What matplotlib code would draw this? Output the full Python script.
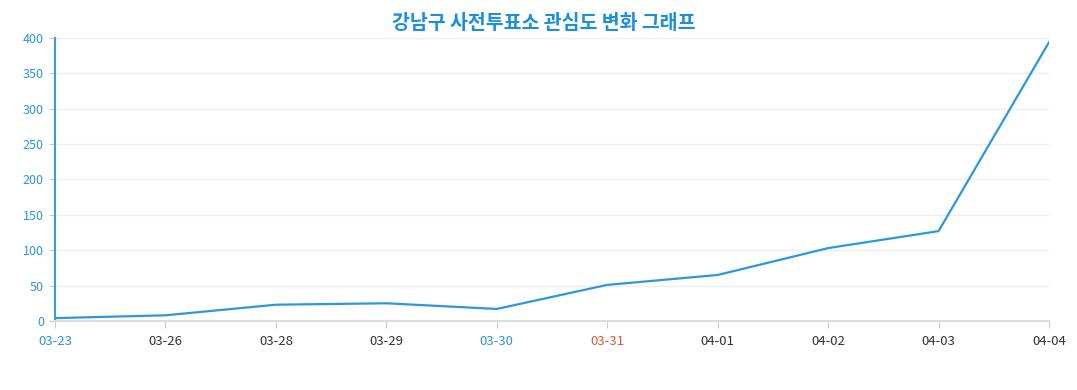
import matplotlib
matplotlib.use("Agg")
import matplotlib.pyplot as plt

plt.rcParams['font.family'] = ['Noto Sans CJK KR', 'DejaVu Sans']

dates = ['03-23', '03-26', '03-28', '03-29', '03-30', '03-31', '04-01', '04-02', '04-03', '04-04']
interest = [4, 8, 23, 25, 17, 51, 65, 103, 127, 394]
label_colors = ['#2f95d0', '#333333', '#333333', '#333333', '#2f95d0', '#e0553a',
                '#333333', '#333333', '#333333', '#333333']
yticks = [0, 50, 100, 150, 200, 250, 300, 350, 400]

fig = plt.figure(figsize=(10.77, 3.9), dpi=100)
ax = fig.add_axes([0.0511, 0.177, 0.9229, 0.7256])

x = list(range(len(dates)))
ax.plot(x, interest, color='#2b97e3', linewidth=1.6, solid_joinstyle='round')

ax.set_xlim(0, len(dates) - 1)
ax.set_ylim(0, 400)
ax.set_xticks(x)
ax.set_xticklabels(dates)
ax.set_yticks(yticks)

ax.grid(axis='y', color='#eeeeee', linewidth=1)
ax.set_axisbelow(True)
for s in ['top', 'right']:
    ax.spines[s].set_visible(False)
ax.spines['left'].set_color('#3a9ad9')
ax.spines['left'].set_linewidth(1.5)
ax.spines['bottom'].set_color('#dddddd')
ax.spines['bottom'].set_linewidth(1.5)

ax.tick_params(axis='x', colors='#cccccc', length=5, labelsize=9.5, pad=5)
for lbl, c in zip(ax.get_xticklabels(), label_colors):
    lbl.set_color(c)
ax.tick_params(axis='y', colors='#cccccc', length=4, labelsize=9, labelcolor='#2f95d0', pad=4)

fig.suptitle('강남구 사전투표소 관심도 변화 그래프', x=0.505, y=0.965, fontsize=14,
             fontweight='bold', color='#1a8fe0')

fig.savefig('out.png', dpi=100)
